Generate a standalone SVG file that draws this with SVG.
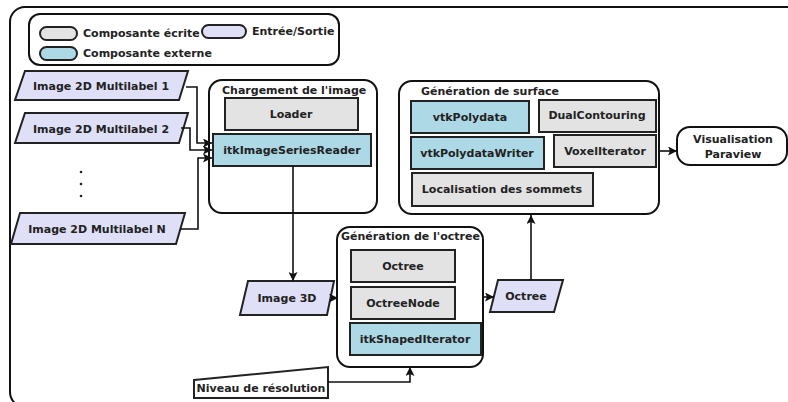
<svg xmlns="http://www.w3.org/2000/svg" width="788" height="402" viewBox="0 0 788 402">
<defs>
<marker id="ah" markerUnits="userSpaceOnUse" markerWidth="9" markerHeight="9" refX="9" refY="4.5" orient="auto">
<path d="M0,0 L9,4.5 L0,9 L2,4.5 z" fill="#111"/>
</marker>
<style>
text{font-family:"DejaVu Sans","Liberation Sans",sans-serif;font-weight:bold;font-size:11px;fill:#222}
.c{text-anchor:middle}
.grp{fill:#fff;stroke:#111;stroke-width:2}
.w{fill:#e3e3e3;stroke:#222;stroke-width:2}
.x{fill:#add8e6;stroke:#222;stroke-width:2}
.io{fill:#dfdff7;stroke:#222;stroke-width:2}
.ln{fill:none;stroke:#111;stroke-width:1.6}
</style>
</defs>
<rect width="788" height="402" fill="#fff"/>
<rect x="10" y="7" width="800" height="400" rx="15" fill="none" stroke="#111" stroke-width="2"/>

<g id="legend">
<rect x="29" y="14" width="310" height="51" rx="11" class="grp"/>
<rect x="40" y="27" width="37" height="13" rx="6.5" class="w"/>
<text x="83" y="37">Composante écrite</text>
<rect x="202" y="25" width="44" height="13" rx="6.5" class="io"/>
<text x="252" y="35">Entrée/Sortie</text>
<rect x="40" y="47" width="37" height="13" rx="6.5" class="x"/>
<text x="83" y="57">Composante externe</text>
</g>

<g id="in1"><polygon points="25,71 188,71 179,100 15,100" class="io"/><text class="c" x="101" y="90">Image 2D Multilabel 1</text></g>
<g id="in2"><polygon points="25,113 188,113 179,143 15,143" class="io"/><text class="c" x="101" y="133">Image 2D Multilabel 2</text></g>
<g id="dots" fill="#222"><circle cx="81" cy="172" r="1.3"/><circle cx="81" cy="184" r="1.3"/><circle cx="81" cy="196" r="1.3"/></g>
<g id="inN"><polygon points="20,213 185,213 176,244 11,244" class="io"/><text class="c" x="97" y="233">Image 2D Multilabel N</text></g>

<g id="chargement">
<rect x="209" y="80" width="168" height="133" rx="13" class="grp"/>
<text x="222" y="94">Chargement de l'image</text>
<rect x="225" y="98" width="133" height="32" class="w"/>
<text class="c" x="291" y="118">Loader</text>
<rect x="213" y="134" width="158" height="32" class="x"/>
<text class="c" x="292" y="154">itkImageSeriesReader</text>
</g>

<g id="image3d"><polygon points="248,281 334,281 327,315 240,315" class="io"/><text class="c" x="287" y="302">Image 3D</text></g>

<g id="octreegen">
<rect x="337" y="227" width="146" height="140" rx="13" class="grp"/>
<text x="341" y="240">Génération de l'octree</text>
<rect x="351" y="250" width="104" height="32" class="w"/>
<text class="c" x="403" y="270">Octree</text>
<rect x="351" y="287" width="104" height="32" class="w"/>
<text class="c" x="403" y="307">OctreeNode</text>
<rect x="350" y="323" width="131" height="32" class="x"/>
<text class="c" x="415" y="343">itkShapedIterator</text>
</g>

<g id="niveau"><polygon points="194,380 328,367 328,398 194,398" fill="#fff" stroke="#222" stroke-width="2"/><text class="c" x="261" y="392">Niveau de résolution</text></g>

<g id="octreeout"><polygon points="498,280 563,280 554,312 490,312" class="io"/><text class="c" x="526" y="300">Octree</text></g>

<g id="surface">
<rect x="399" y="81" width="260" height="133" rx="13" class="grp"/>
<text x="421" y="95">Génération de surface</text>
<rect x="411" y="101" width="118" height="32" class="x"/>
<text class="c" x="470" y="121">vtkPolydata</text>
<rect x="539" y="100" width="117" height="32" class="w"/>
<text class="c" x="597" y="119">DualContouring</text>
<rect x="411" y="137" width="133" height="32" class="x"/>
<text class="c" x="477" y="157">vtkPolydataWriter</text>
<rect x="554" y="135" width="102" height="32" class="w"/>
<text class="c" x="605" y="155">VoxelIterator</text>
<rect x="412" y="173" width="181" height="33" class="w"/>
<text class="c" x="502" y="193">Localisation des sommets</text>
</g>

<g id="visu">
<rect x="677" y="127" width="110" height="38" rx="13" fill="#fff" stroke="#111" stroke-width="2"/>
<text class="c" x="733" y="143">Visualisation</text>
<text class="c" x="733" y="158">Paraview</text>
</g>

<g id="connectors">
<polyline class="ln" points="186,87 197,87 197,143 212,143" marker-end="url(#ah)"/>
<polyline class="ln" points="181,128 190,128 190,150 212,150" marker-end="url(#ah)"/>
<polyline class="ln" points="180,229 198,229 198,158 212,158" marker-end="url(#ah)"/>
<line class="ln" x1="293" y1="166" x2="293" y2="281" marker-end="url(#ah)"/>
<line class="ln" x1="331" y1="298" x2="338" y2="298" marker-end="url(#ah)"/>
<polyline class="ln" points="328,382 410,382 410,367" marker-end="url(#ah)"/>
<line class="ln" x1="483" y1="297" x2="494" y2="297" marker-end="url(#ah)"/>
<line class="ln" x1="531" y1="280" x2="531" y2="215" marker-end="url(#ah)"/>
<line class="ln" x1="659" y1="151" x2="677" y2="151" marker-end="url(#ah)"/>
</g>
</svg>
